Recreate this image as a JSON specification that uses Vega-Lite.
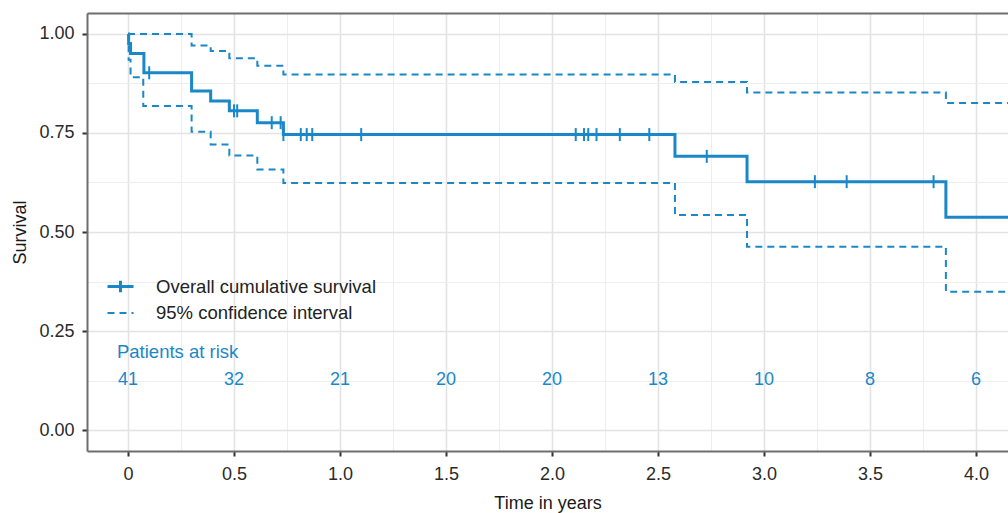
{
  "$schema": "https://vega.github.io/schema/vega-lite/v6.json",
  "autosize": "none",
  "width": 921,
  "height": 438,
  "padding": {"left": 87, "top": 13, "right": 0, "bottom": 62},
  "background": "white",
  "config": {
    "view": {"stroke": null},
    "font": "Liberation Sans",
    "axis": {
      "labelFont": "Liberation Sans",
      "titleFont": "Liberation Sans",
      "labelFontSize": 18,
      "titleFontSize": 18,
      "titleFontWeight": "normal",
      "labelColor": "#2a2a2a",
      "titleColor": "#1a1a1a",
      "domainColor": "#6e6e6e",
      "domainWidth": 2,
      "tickColor": "#333333",
      "tickSize": 5,
      "tickWidth": 2,
      "gridColor": "#e6e6e6"
    }
  },
  "datasets": {
    "curves": [
      {"t": 0, "s": 1.0, "line": "surv", "series": "Overall cumulative survival"},
      {"t": 0.003, "s": 0.976, "line": "surv", "series": "Overall cumulative survival"},
      {"t": 0.012, "s": 0.951, "line": "surv", "series": "Overall cumulative survival"},
      {"t": 0.075, "s": 0.902, "line": "surv", "series": "Overall cumulative survival"},
      {"t": 0.30, "s": 0.856, "line": "surv", "series": "Overall cumulative survival"},
      {"t": 0.39, "s": 0.831, "line": "surv", "series": "Overall cumulative survival"},
      {"t": 0.478, "s": 0.806, "line": "surv", "series": "Overall cumulative survival"},
      {"t": 0.61, "s": 0.776, "line": "surv", "series": "Overall cumulative survival"},
      {"t": 0.733, "s": 0.746, "line": "surv", "series": "Overall cumulative survival"},
      {"t": 2.58, "s": 0.691, "line": "surv", "series": "Overall cumulative survival"},
      {"t": 2.92, "s": 0.627, "line": "surv", "series": "Overall cumulative survival"},
      {"t": 3.858, "s": 0.537, "line": "surv", "series": "Overall cumulative survival"},
      {"t": 4.16, "s": 0.537, "line": "surv", "series": "Overall cumulative survival"},
      {"t": 0, "s": 1.0, "line": "upper", "series": "95% confidence interval"},
      {"t": 0.30, "s": 0.971, "line": "upper", "series": "95% confidence interval"},
      {"t": 0.39, "s": 0.957, "line": "upper", "series": "95% confidence interval"},
      {"t": 0.478, "s": 0.939, "line": "upper", "series": "95% confidence interval"},
      {"t": 0.61, "s": 0.920, "line": "upper", "series": "95% confidence interval"},
      {"t": 0.733, "s": 0.898, "line": "upper", "series": "95% confidence interval"},
      {"t": 2.58, "s": 0.879, "line": "upper", "series": "95% confidence interval"},
      {"t": 2.92, "s": 0.852, "line": "upper", "series": "95% confidence interval"},
      {"t": 3.858, "s": 0.826, "line": "upper", "series": "95% confidence interval"},
      {"t": 4.16, "s": 0.826, "line": "upper", "series": "95% confidence interval"},
      {"t": 0, "s": 1.0, "line": "lower", "series": "95% confidence interval"},
      {"t": 0.003, "s": 0.935, "line": "lower", "series": "95% confidence interval"},
      {"t": 0.012, "s": 0.891, "line": "lower", "series": "95% confidence interval"},
      {"t": 0.072, "s": 0.818, "line": "lower", "series": "95% confidence interval"},
      {"t": 0.30, "s": 0.753, "line": "lower", "series": "95% confidence interval"},
      {"t": 0.39, "s": 0.721, "line": "lower", "series": "95% confidence interval"},
      {"t": 0.478, "s": 0.693, "line": "lower", "series": "95% confidence interval"},
      {"t": 0.61, "s": 0.658, "line": "lower", "series": "95% confidence interval"},
      {"t": 0.733, "s": 0.624, "line": "lower", "series": "95% confidence interval"},
      {"t": 2.58, "s": 0.543, "line": "lower", "series": "95% confidence interval"},
      {"t": 2.92, "s": 0.463, "line": "lower", "series": "95% confidence interval"},
      {"t": 3.858, "s": 0.349, "line": "lower", "series": "95% confidence interval"},
      {"t": 4.16, "s": 0.349, "line": "lower", "series": "95% confidence interval"}
    ],
    "censors": [
      {"t": 0.10, "s": 0.902},
      {"t": 0.50, "s": 0.806},
      {"t": 0.515, "s": 0.806},
      {"t": 0.678, "s": 0.776},
      {"t": 0.72, "s": 0.776},
      {"t": 0.733, "s": 0.746},
      {"t": 0.815, "s": 0.746},
      {"t": 0.843, "s": 0.746},
      {"t": 0.869, "s": 0.746},
      {"t": 1.10, "s": 0.746},
      {"t": 2.112, "s": 0.746},
      {"t": 2.151, "s": 0.746},
      {"t": 2.171, "s": 0.746},
      {"t": 2.21, "s": 0.746},
      {"t": 2.32, "s": 0.746},
      {"t": 2.459, "s": 0.746},
      {"t": 2.73, "s": 0.691},
      {"t": 3.24, "s": 0.627},
      {"t": 3.39, "s": 0.627},
      {"t": 3.80, "s": 0.627}
    ],
    "risk": [
      {"t": 0, "n": 41},
      {"t": 0.5, "n": 32},
      {"t": 1.0, "n": 21},
      {"t": 1.5, "n": 20},
      {"t": 2.0, "n": 20},
      {"t": 2.5, "n": 13},
      {"t": 3.0, "n": 10},
      {"t": 3.5, "n": 8},
      {"t": 4.0, "n": 6}
    ],
    "risklabel": [{"label": "Patients at risk"}]
  },
  "resolve": {"axis": {"x": "independent"}},
  "layer": [
    {
      "data": {"name": "curves"},
      "mark": {"type": "line", "interpolate": "step-after", "clip": true, "color": "#1a88c8"},
      "encoding": {
        "x": {
          "field": "t", "type": "quantitative",
          "scale": {"domain": [-0.1934, 4.151], "nice": false, "zero": false},
          "axis": {
            "title": "Time in years",
            "values": [0, 0.25, 0.5, 0.75, 1, 1.25, 1.5, 1.75, 2, 2.25, 2.5, 2.75, 3, 3.25, 3.5, 3.75, 4],
            "labelExpr": "datum.value % 0.5 !== 0 ? '' : (datum.value === 0 ? '0' : format(datum.value, '.1f'))",
            "tickOpacity": {"condition": {"test": "datum.value % 0.5 !== 0", "value": 0}, "value": 1},
            "gridWidth": {"condition": {"test": "datum.value % 0.5 !== 0", "value": 1}, "value": 1.6},
            "gridColor": {"condition": {"test": "datum.value % 0.5 !== 0", "value": "#eeeeee"}, "value": "#e3e3e3"},
            "labelPadding": 9,
            "titlePadding": 11,
            "grid": true
          }
        },
        "y": {
          "field": "s", "type": "quantitative",
          "scale": {"domain": [-0.053, 1.053], "nice": false, "zero": false},
          "axis": {
            "title": "Survival",
            "values": [0, 0.125, 0.25, 0.375, 0.5, 0.625, 0.75, 0.875, 1],
            "labelExpr": "(datum.value * 4) % 1 !== 0 ? '' : format(datum.value, '.2f')",
            "tickOpacity": {"condition": {"test": "(datum.value * 4) % 1 !== 0", "value": 0}, "value": 1},
            "gridWidth": {"condition": {"test": "(datum.value * 4) % 1 !== 0", "value": 1}, "value": 1.6},
            "gridColor": {"condition": {"test": "(datum.value * 4) % 1 !== 0", "value": "#eeeeee"}, "value": "#e3e3e3"},
            "labelPadding": 8,
            "titlePadding": 9,
            "grid": true
          }
        },
        "detail": {"field": "line"},
        "strokeDash": {
          "field": "series", "type": "nominal",
          "scale": {"domain": ["Overall cumulative survival", "95% confidence interval"], "range": [[1, 0], [7, 5]]},
          "legend": {
            "title": null,
            "orient": "none",
            "legendX": 19,
            "legendY": 259,
            "symbolType": "stroke",
            "symbolSize": 676,
            "symbolStrokeColor": "#1a88c8",
            "labelFontSize": 18.5,
            "labelFont": "Liberation Sans",
            "labelColor": "#222222",
            "labelOffset": 21,
            "rowPadding": 0,
            "labelLimit": 400,
            "encode": {
              "symbols": {
                "update": {
                  "shape": [
                    {"test": "datum.value === 'Overall cumulative survival'", "value": "M-1,0H1M0,-0.45V0.45"},
                    {"value": "stroke"}
                  ]
                }
              }
            }
          }
        },
        "strokeWidth": {
          "field": "series", "type": "nominal",
          "scale": {"domain": ["Overall cumulative survival", "95% confidence interval"], "range": [3, 2]},
          "legend": null
        }
      }
    },
    {
      "data": {"name": "censors"},
      "mark": {"type": "tick", "orient": "vertical", "size": 13, "thickness": 2, "color": "#1a88c8", "opacity": 1},
      "encoding": {
        "x": {"field": "t", "type": "quantitative", "axis": null},
        "y": {"field": "s", "type": "quantitative"}
      }
    },
    {
      "data": {"name": "risklabel"},
      "mark": {"type": "text", "align": "left", "baseline": "middle", "fontSize": 18.5, "color": "#1a88c8", "font": "Liberation Sans"},
      "encoding": {
        "x": {"datum": -0.052, "type": "quantitative", "axis": null},
        "y": {"datum": 0.197, "type": "quantitative"},
        "text": {"field": "label"}
      }
    },
    {
      "data": {"name": "risk"},
      "mark": {"type": "text", "align": "center", "baseline": "middle", "fontSize": 18, "color": "#1a88c8", "font": "Liberation Sans"},
      "encoding": {
        "x": {"field": "t", "type": "quantitative",
          "axis": {"orient": "top", "labels": false, "ticks": false, "grid": false, "title": null, "domain": true}},
        "y": {"datum": 0.126, "type": "quantitative"},
        "text": {"field": "n"}
      }
    }
  ]
}
